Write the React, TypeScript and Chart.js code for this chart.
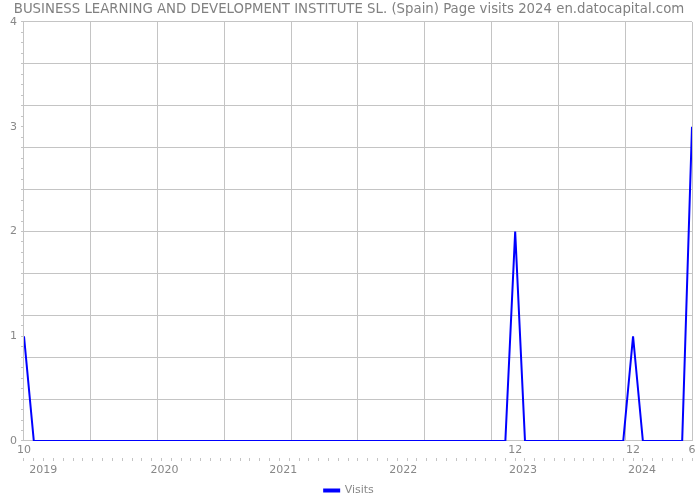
import React, { useEffect, useRef } from "react";
import { Chart, registerables } from "chart.js";

Chart.register(...registerables);

const titleText =
  "BUSINESS LEARNING AND DEVELOPMENT INSTITUTE SL. (Spain) Page visits 2024 en.datocapital.com";
const seriesName = "Visits";

// Monthly points from 2018-10 to 2024-06 (index 0..68)
const months: string[] = [
  "2018-10", "2018-11", "2018-12",
  "2019-01", "2019-02", "2019-03", "2019-04", "2019-05", "2019-06", "2019-07", "2019-08", "2019-09", "2019-10", "2019-11", "2019-12",
  "2020-01", "2020-02", "2020-03", "2020-04", "2020-05", "2020-06", "2020-07", "2020-08", "2020-09", "2020-10", "2020-11", "2020-12",
  "2021-01", "2021-02", "2021-03", "2021-04", "2021-05", "2021-06", "2021-07", "2021-08", "2021-09", "2021-10", "2021-11", "2021-12",
  "2022-01", "2022-02", "2022-03", "2022-04", "2022-05", "2022-06", "2022-07", "2022-08", "2022-09", "2022-10", "2022-11", "2022-12",
  "2023-01", "2023-02", "2023-03", "2023-04", "2023-05", "2023-06", "2023-07", "2023-08", "2023-09", "2023-10", "2023-11", "2023-12",
  "2024-01", "2024-02", "2024-03", "2024-04", "2024-05", "2024-06",
];
const visits: number[] = [
  1, 0, 0,
  0, 0, 0, 0, 0, 0, 0, 0, 0, 0, 0, 0,
  0, 0, 0, 0, 0, 0, 0, 0, 0, 0, 0, 0,
  0, 0, 0, 0, 0, 0, 0, 0, 0, 0, 0, 0,
  0, 0, 0, 0, 0, 0, 0, 0, 0, 0, 0, 2,
  0, 0, 0, 0, 0, 0, 0, 0, 0, 0, 0, 1,
  0, 0, 0, 0, 0, 3,
];

// First label row: month numbers at given month indices
const monthTickIdx: number[] = [0, 50, 62, 68];
const monthTickText: string[] = ["10", "12", "12", "6"];
// Second label row: years (positions on the month-index axis, as read)
const yearTickPos: number[] = [1.95, 14.3, 26.4, 38.6, 50.8, 62.9];
const yearTickText: string[] = ["2019", "2020", "2021", "2022", "2023", "2024"];

const yMax = 4;
const xGridDivisions = 10;
const yGridEvery = 4; // gridline every 4 minor steps (0.4)

const GRID = "#c4c4c4";
const TEXT = "#888888";
const LINE = "#0000ff";
const FONT = "'DejaVu Sans', sans-serif";

const near = (a: number, b: number) => Math.abs(a - b) < 1e-6;

export default function App() {
  const ref = useRef<HTMLCanvasElement | null>(null);

  useEffect(() => {
    if (!ref.current) return;
    const last = months.length - 1;
    const gridPos: number[] = [];
    for (let i = 0; i <= xGridDivisions; i++) gridPos.push((i * last) / xGridDivisions);

    const data = visits.map((v, i) => ({ x: i, y: v }));
    const tickFont = { family: FONT, size: 11, lineHeight: 1 };

    const chart = new Chart(ref.current, {
      type: "line",
      data: {
        datasets: [
          {
            label: seriesName,
            data,
            borderColor: LINE,
            backgroundColor: LINE,
            borderWidth: 2,
            pointRadius: 0,
            tension: 0,
            xAxisID: "x",
            yAxisID: "y",
          },
        ],
      },
      options: {
        animation: false,
        responsive: false,
        maintainAspectRatio: false,
        layout: { padding: { left: 6, right: 8, top: 0, bottom: -6 } },
        plugins: {
          title: {
            display: true,
            text: titleText,
            color: "#808080",
            font: { family: FONT, size: 13.3, weight: "normal" },
            padding: { top: 2, bottom: 4 },
          },
          legend: {
            display: true,
            position: "bottom",
            labels: {
              color: TEXT,
              font: { family: FONT, size: 11 },
              boxWidth: 15,
              boxHeight: 2,
              padding: 2,
            },
          },
          tooltip: { enabled: false },
        },
        scales: {
          x: {
            type: "linear",
            position: "bottom",
            weight: 1,
            min: 0,
            max: last,
            afterBuildTicks: (axis: any) => {
              const vals = [...gridPos];
              monthTickIdx.forEach((m) => {
                if (!vals.some((v) => near(v, m))) vals.push(m);
              });
              vals.sort((a, b) => a - b);
              axis.ticks = vals.map((v) => ({ value: v }));
            },
            afterFit: (axis: any) => {
              axis.height = 17;
            },
            grid: {
              display: true,
              drawTicks: false,
              color: (ctx: any) =>
                ctx.tick && gridPos.some((g) => near(g, ctx.tick.value)) ? GRID : "rgba(0,0,0,0)",
            },
            border: { display: false },
            ticks: {
              autoSkip: false,
              maxRotation: 0,
              minRotation: 0,
              padding: 4,
              color: TEXT,
              font: tickFont,
              callback: (value: any) => {
                const k = monthTickIdx.findIndex((m) => near(m, Number(value)));
                return k >= 0 ? monthTickText[k] : "";
              },
            },
          },
          xYear: {
            type: "linear",
            position: "bottom",
            weight: 2,
            min: 0,
            max: last,
            afterBuildTicks: (axis: any) => {
              const vals: number[] = [];
              for (let i = 0; i <= last; i++) vals.push(i);
              yearTickPos.forEach((p) => vals.push(p));
              vals.sort((a, b) => a - b);
              axis.ticks = vals.map((v) => ({ value: v }));
            },
            afterFit: (axis: any) => {
              axis.height = 25;
            },
            grid: {
              display: true,
              drawOnChartArea: false,
              drawTicks: true,
              tickLength: 3,
              color: "rgba(0,0,0,0)",
              tickColor: (ctx: any) =>
                ctx.tick && Number.isInteger(ctx.tick.value) ? GRID : "rgba(0,0,0,0)",
            },
            border: { display: false },
            ticks: {
              autoSkip: false,
              maxRotation: 0,
              minRotation: 0,
              padding: 4,
              color: TEXT,
              font: tickFont,
              callback: (value: any) => {
                const k = yearTickPos.findIndex((p) => near(p, Number(value)));
                return k >= 0 ? yearTickText[k] : "";
              },
            },
          },
          y: {
            type: "linear",
            position: "left",
            min: 0,
            max: yMax,
            afterBuildTicks: (axis: any) => {
              const vals: { value: number }[] = [];
              for (let i = 0; i <= yMax * 10; i++) vals.push({ value: i / 10 });
              axis.ticks = vals;
            },
            grid: {
              display: true,
              drawTicks: true,
              tickLength: 3,
              color: (ctx: any) => {
                if (!ctx.tick) return "rgba(0,0,0,0)";
                const i = Math.round(ctx.tick.value * 10);
                return i % yGridEvery === 0 ? GRID : "rgba(0,0,0,0)";
              },
              tickColor: GRID,
            },
            border: { display: true, color: GRID },
            ticks: {
              autoSkip: false,
              padding: 4,
              color: TEXT,
              font: { family: FONT, size: 11 },
              callback: (value: any) => {
                const i = Math.round(Number(value) * 10);
                return i % 10 === 0 ? String(i / 10) : "";
              },
            },
          },
        },
      },
    });
    return () => chart.destroy();
  }, []);

  return (
    <div style={{ position: "fixed", left: 0, top: 0, width: 700, height: 500, background: "#fff" }}>
      <canvas ref={ref} width={700} height={500} style={{ width: 700, height: 500 }} />
    </div>
  );
}
